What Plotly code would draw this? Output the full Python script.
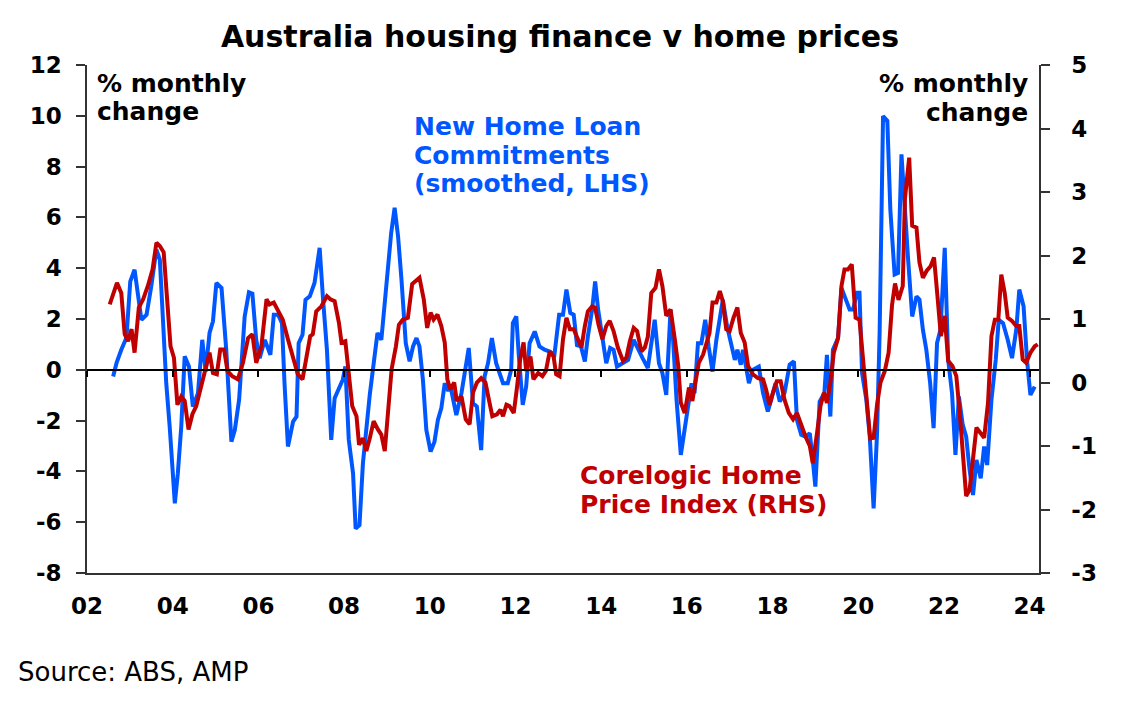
import plotly.graph_objects as go

# x axis: every second year, labelled with two digits
tick_years = [2002, 2004, 2006, 2008, 2010, 2012, 2014, 2016, 2018, 2020, 2022, 2024]
tick_labels = ["02", "04", "06", "08", "10", "12", "14", "16", "18", "20", "22", "24"]

# y axes, labelled with a plain hyphen for the minus sign
lhs_ticks = [-8, -6, -4, -2, 0, 2, 4, 6, 8, 10, 12]
lhs_labels = ["-8", "-6", "-4", "-2", "0", "2", "4", "6", "8", "10", "12"]
rhs_ticks = [-3, -2, -1, 0, 1, 2, 3, 4, 5]
rhs_labels = ["-3", "-2", "-1", "0", "1", "2", "3", "4", "5"]

# New home loan commitments, smoothed, % monthly change (LHS)
loans_t = [
    2002.61, 2002.69, 2002.80, 2002.92, 2003.01, 2003.11, 2003.27, 2003.39, 2003.50, 2003.62,
    2003.70, 2003.77, 2003.85, 2003.93, 2004.05, 2004.12, 2004.20, 2004.28, 2004.38, 2004.47,
    2004.59, 2004.69, 2004.77, 2004.86, 2004.94, 2005.02, 2005.14, 2005.25, 2005.37, 2005.45,
    2005.55, 2005.68, 2005.78, 2005.86, 2005.95, 2006.03, 2006.15, 2006.28, 2006.36, 2006.46,
    2006.55, 2006.61, 2006.69, 2006.81, 2006.89, 2006.94, 2007.03, 2007.10, 2007.20, 2007.31,
    2007.43, 2007.51, 2007.60, 2007.70, 2007.78, 2007.90, 2007.97, 2008.03, 2008.11, 2008.21,
    2008.27, 2008.36, 2008.44, 2008.60, 2008.67, 2008.78, 2008.87, 2008.99, 2009.10, 2009.18,
    2009.26, 2009.34, 2009.44, 2009.53, 2009.61, 2009.69, 2009.76, 2009.84, 2009.92, 2010.02,
    2010.11, 2010.19, 2010.27, 2010.35, 2010.42, 2010.50, 2010.62, 2010.74, 2010.81, 2010.91,
    2011.01, 2011.10, 2011.20, 2011.28, 2011.36, 2011.45, 2011.55, 2011.63, 2011.71, 2011.82,
    2011.90, 2011.94, 2012.02, 2012.08, 2012.17, 2012.25, 2012.33, 2012.45, 2012.56, 2012.68,
    2012.80, 2012.91, 2013.02, 2013.11, 2013.19, 2013.28, 2013.36, 2013.44, 2013.51, 2013.62,
    2013.69, 2013.79, 2013.86, 2013.93, 2014.00, 2014.12, 2014.21, 2014.29, 2014.37, 2014.51,
    2014.63, 2014.76, 2014.86, 2014.97, 2015.09, 2015.17, 2015.25, 2015.35, 2015.43, 2015.52,
    2015.62, 2015.68, 2015.76, 2015.86, 2015.95, 2016.03, 2016.11, 2016.18, 2016.26, 2016.34,
    2016.43, 2016.51, 2016.60, 2016.69, 2016.77, 2016.84, 2016.94, 2017.04, 2017.12, 2017.18,
    2017.26, 2017.31, 2017.39, 2017.45, 2017.54, 2017.68, 2017.78, 2017.89, 2017.97, 2018.07,
    2018.17, 2018.28, 2018.40, 2018.50, 2018.57, 2018.67, 2018.77, 2018.87, 2018.94, 2019.00,
    2019.10, 2019.21, 2019.27, 2019.35, 2019.41, 2019.53, 2019.61, 2019.71, 2019.80, 2019.88,
    2019.97, 2020.03, 2020.09, 2020.19, 2020.27, 2020.36, 2020.44, 2020.50, 2020.58, 2020.68,
    2020.75, 2020.85, 2020.93, 2021.01, 2021.08, 2021.16, 2021.26, 2021.36, 2021.43, 2021.51,
    2021.59, 2021.68, 2021.76, 2021.84, 2021.92, 2022.02, 2022.10, 2022.19, 2022.27, 2022.35,
    2022.44, 2022.52, 2022.60, 2022.68, 2022.76, 2022.86, 2022.94, 2023.01, 2023.11, 2023.21,
    2023.28, 2023.38, 2023.49, 2023.59, 2023.69, 2023.76, 2023.86, 2023.94, 2024.02, 2024.12,
]
loans_v = [
    -0.26, 0.27, 0.79, 1.26, 3.48, 3.94, 1.97, 2.17, 3.29, 4.73,
    4.34, 2.10, -0.53, -2.24, -5.26, -4.08, -2.24, 0.53, 0.13, -1.45,
    -0.92, 1.18, -0.07, 1.45, 1.91, 3.42, 3.22, 0.79, -2.83, -2.37,
    -1.18, 2.10, 3.05, 3.00, 1.18, 0.46, 1.18, 0.59, 2.17, 2.17,
    1.84, -0.53, -3.02, -2.04, -1.84, 1.05, 1.38, 2.76, 2.89, 3.42,
    4.80, 2.76, 0.79, -2.76, -1.12, -0.66, -0.39, 0.13, -2.76, -4.08,
    -6.25, -6.11, -3.68, -0.98, -0.05, 1.45, 1.18, 3.42, 5.39, 6.38,
    5.26, 3.55, 1.05, 0.33, 0.92, 1.25, 0.92, -0.39, -2.37, -3.22,
    -2.83, -1.97, -1.51, -0.53, -0.79, -0.79, -1.78, -0.92, -0.26, 0.86,
    -1.31, -1.45, -3.16, -0.26, 0.26, 1.25, 0.26, -0.13, -0.53, -0.53,
    0.00, 1.84, 2.10, 0.53, -1.38, -0.66, 1.05, 1.51, 0.92, 0.79,
    0.72, 0.59, 2.17, 2.17, 3.16, 2.24, 2.17, 0.92, 1.05, 0.33,
    1.31, 2.37, 3.48, 2.37, 1.58, 0.26, 0.86, 0.79, 0.13, 0.26,
    0.39, 1.18, 0.79, 0.45, 0.07, 1.00, 1.97, 0.26, -0.13, -0.99,
    2.37, 1.18, -1.18, -3.35, -2.24, -1.51, -0.53, -0.92, 1.05, 1.05,
    1.97, 0.92, -0.07, 1.18, 1.97, 2.76, 1.71, 0.92, 0.39, 0.79,
    0.20, 0.79, 0.13, -0.53, 0.00, 0.13, -0.92, -1.64, -1.18, -0.53,
    -1.25, -0.92, 0.20, 0.33, -1.97, -2.56, -2.63, -2.50, -3.55, -4.60,
    -1.25, -0.92, 0.59, -1.84, 0.79, 1.25, 3.22, 2.76, 2.37, 2.37,
    3.03, 3.03, -0.13, -1.18, -2.63, -5.46, -2.50, 1.45, 9.99, 9.80,
    6.31, 3.75, 3.81, 8.48, 6.31, 4.47, 2.10, 2.89, 2.76, 1.58,
    0.79, -0.53, -2.30, 1.05, 1.58, 4.80, 0.39, -0.92, -3.35, -1.05,
    -2.17, -2.63, -3.94, -4.93, -3.55, -4.27, -3.02, -3.75, -1.18, 0.39,
    1.97, 1.84, 1.18, 0.46, 1.58, 3.16, 2.50, 0.39, -0.99, -0.66,
]

# Corelogic home price index, % monthly change (RHS)
prices_t = [
    2002.53, 2002.70, 2002.80, 2002.88, 2002.96, 2003.04, 2003.11, 2003.21, 2003.31, 2003.42,
    2003.53, 2003.62, 2003.70, 2003.79, 2003.87, 2003.95, 2004.03, 2004.11, 2004.20, 2004.28,
    2004.37, 2004.46, 2004.55, 2004.65, 2004.75, 2004.86, 2004.94, 2005.03, 2005.11, 2005.20,
    2005.28, 2005.39, 2005.52, 2005.64, 2005.76, 2005.86, 2005.95, 2006.07, 2006.19, 2006.26,
    2006.36, 2006.46, 2006.57, 2006.69, 2006.81, 2006.92, 2007.03, 2007.12, 2007.21, 2007.27,
    2007.35, 2007.47, 2007.60, 2007.68, 2007.78, 2007.88, 2007.94, 2008.03, 2008.13, 2008.19,
    2008.29, 2008.35, 2008.44, 2008.52, 2008.60, 2008.69, 2008.79, 2008.87, 2008.95, 2009.03,
    2009.11, 2009.21, 2009.28, 2009.37, 2009.49, 2009.59, 2009.67, 2009.76, 2009.86, 2009.94,
    2010.02, 2010.09, 2010.18, 2010.27, 2010.35, 2010.41, 2010.48, 2010.57, 2010.63, 2010.74,
    2010.84, 2010.93, 2011.01, 2011.10, 2011.20, 2011.30, 2011.38, 2011.46, 2011.57, 2011.65,
    2011.71, 2011.79, 2011.86, 2011.96, 2012.03, 2012.11, 2012.19, 2012.25, 2012.35, 2012.42,
    2012.53, 2012.63, 2012.71, 2012.80, 2012.89, 2012.95, 2013.03, 2013.11, 2013.19, 2013.27,
    2013.36, 2013.46, 2013.54, 2013.62, 2013.69, 2013.79, 2013.86, 2013.94, 2014.03, 2014.12,
    2014.20, 2014.29, 2014.39, 2014.51, 2014.59, 2014.67, 2014.76, 2014.84, 2014.94, 2015.02,
    2015.09, 2015.17, 2015.27, 2015.35, 2015.43, 2015.52, 2015.62, 2015.72, 2015.80, 2015.86,
    2015.95, 2016.05, 2016.13, 2016.20, 2016.28, 2016.38, 2016.46, 2016.53, 2016.60, 2016.69,
    2016.77, 2016.84, 2016.92, 2017.00, 2017.09, 2017.18, 2017.26, 2017.35, 2017.43, 2017.54,
    2017.66, 2017.78, 2017.85, 2017.93, 2018.01, 2018.10, 2018.19, 2018.28, 2018.38, 2018.48,
    2018.57, 2018.67, 2018.77, 2018.87, 2018.94, 2019.04, 2019.12, 2019.20, 2019.27, 2019.35,
    2019.43, 2019.53, 2019.61, 2019.68, 2019.76, 2019.85, 2019.94, 2020.03, 2020.12, 2020.20,
    2020.28, 2020.36, 2020.44, 2020.52, 2020.62, 2020.71, 2020.79, 2020.86, 2020.94, 2021.04,
    2021.09, 2021.19, 2021.26, 2021.36, 2021.43, 2021.51, 2021.60, 2021.69, 2021.77, 2021.85,
    2021.93, 2022.02, 2022.10, 2022.20, 2022.29, 2022.37, 2022.45, 2022.52, 2022.60, 2022.68,
    2022.76, 2022.85, 2022.94, 2023.03, 2023.11, 2023.19, 2023.27, 2023.34, 2023.42, 2023.49,
    2023.59, 2023.69, 2023.76, 2023.84, 2023.92, 2024.02, 2024.12, 2024.19,
]
prices_v = [
    1.23, 1.57, 1.41, 0.76, 0.65, 0.84, 0.47, 1.18, 1.31, 1.52,
    1.78, 2.20, 2.15, 2.05, 1.31, 0.57, 0.39, -0.35, -0.22, -0.29,
    -0.74, -0.50, -0.37, -0.11, 0.21, 0.47, 0.15, 0.13, 0.52, 0.52,
    0.18, 0.10, 0.05, 0.31, 0.70, 0.76, 0.31, 0.57, 1.31, 1.23,
    1.26, 1.12, 0.99, 0.68, 0.36, 0.13, 0.05, 0.41, 0.73, 0.76,
    1.12, 1.20, 1.36, 1.31, 1.28, 0.94, 0.63, 0.65, 0.05, -0.37,
    -0.53, -0.98, -0.88, -1.08, -0.88, -0.61, -0.74, -0.82, -1.08, -0.43,
    0.21, 0.57, 0.91, 0.99, 1.02, 1.55, 1.60, 1.65, 1.31, 0.86,
    1.10, 0.99, 1.07, 0.89, 0.63, 0.05, -0.11, 0.00, -0.29, -0.22,
    -0.58, -0.66, -0.16, 0.00, 0.07, 0.00, -0.27, -0.53, -0.50, -0.43,
    -0.53, -0.35, -0.37, -0.48, -0.11, 0.36, 0.63, 0.18, 0.41, 0.05,
    0.15, 0.10, 0.18, 0.49, 0.41, 0.13, 0.10, 0.68, 1.02, 0.84,
    0.84, 0.68, 0.55, 0.89, 1.12, 1.20, 1.18, 0.91, 0.68, 0.89,
    0.97, 0.81, 0.55, 0.34, 0.39, 0.65, 0.86, 0.81, 0.49, 0.55,
    0.72, 1.41, 1.49, 1.78, 1.52, 1.05, 1.15, 0.68, 0.26, -0.32,
    -0.48, -0.08, -0.29, 0.00, 0.31, 0.44, 0.63, 0.78, 1.26, 1.26,
    1.44, 1.28, 0.84, 0.81, 1.02, 1.18, 0.78, 0.63, 0.26, 0.13,
    0.07, 0.05, -0.11, -0.35, -0.16, 0.02, 0.02, -0.27, -0.48, -0.58,
    -0.48, -0.69, -0.85, -1.00, -1.27, -0.79, -0.37, -0.16, -0.32, 0.00,
    0.47, 0.70, 1.52, 1.78, 1.78, 1.86, 1.02, 0.99, 0.30, -0.20,
    -0.88, -0.87, -0.35, 0.00, 0.18, 0.47, 1.22, 1.56, 1.30, 1.52,
    2.89, 3.54, 2.47, 2.44, 1.89, 1.65, 1.76, 1.83, 1.97, 1.36,
    0.73, 1.05, 0.34, 0.26, 0.10, -0.48, -1.21, -1.79, -1.69, -1.21,
    -0.71, -0.79, -0.87, -0.32, 0.73, 0.99, 0.99, 1.70, 1.41, 1.02,
    0.97, 0.89, 0.89, 0.36, 0.31, 0.47, 0.57, 0.60,
]

BLUE = "#0057FF"
RED = "#C00000"
FONT = "DejaVu Sans, sans-serif"
x_range = [2002, 2024.22]

fig = go.Figure()
fig.add_trace(go.Scatter(
    x=loans_t, y=loans_v,
    mode="lines",
    name="New Home Loan Commitments (smoothed, LHS)",
    line=dict(color=BLUE, width=4),
    xaxis="x", yaxis="y",
))
fig.add_trace(go.Scatter(
    x=prices_t, y=prices_v,
    mode="lines",
    name="Corelogic Home Price Index (RHS)",
    line=dict(color=RED, width=4),
    xaxis="x2", yaxis="y2",
))

tick_font = dict(family=FONT, size=23, color="black", weight="bold")

# page has an 8px body margin, so the figure is 16px smaller than the window
fig.update_layout(
    width=1114, height=702,
    margin=dict(l=79, r=83, t=57, b=137),
    paper_bgcolor="white", plot_bgcolor="white",
    showlegend=False,
    title=dict(
        text="Australia housing finance v home prices",
        x=0.4955, xanchor="center", y=0.9587, yanchor="middle",
        font=dict(family=FONT, size=30, color="black", weight="bold"),
    ),
    # bottom axis: year labels only
    xaxis=dict(
        range=x_range, tickvals=tick_years, ticktext=tick_labels,
        ticks="", showgrid=False, zeroline=False,
        showline=True, linecolor="#333333", linewidth=1.5,
        tickfont=tick_font, ticklabelstandoff=12,
    ),
    # axis along zero of the LHS scale, carrying the year ticks
    xaxis2=dict(
        range=x_range, tickvals=tick_years, overlaying="x",
        anchor="free", position=0.4,
        ticks="outside", ticklen=6, tickcolor="black", tickwidth=1.5,
        showticklabels=False, showgrid=False, zeroline=False,
        showline=True, linecolor="black", linewidth=1.5,
    ),
    yaxis=dict(
        range=[-8, 12], tickvals=lhs_ticks, ticktext=lhs_labels, anchor="x",
        ticks="outside", ticklen=9, tickcolor="#333333", tickwidth=1.5,
        showgrid=False, zeroline=False,
        showline=True, linecolor="#333333", linewidth=1.5,
        tickfont=tick_font, ticklabelstandoff=10,
    ),
    yaxis2=dict(
        range=[-3, 5], tickvals=rhs_ticks, ticktext=rhs_labels,
        overlaying="y", side="right", anchor="x2",
        ticks="outside", ticklen=9, tickcolor="#333333", tickwidth=1.5,
        showgrid=False, zeroline=False,
        showline=True, linecolor="#333333", linewidth=1.5,
        tickfont=tick_font, ticklabelstandoff=17,
    ),
)


def add_lines(lines, x, ys, anchor, color, size=25, bold=True):
    for text, y in zip(lines, ys):
        fig.add_annotation(
            text=text, xref="paper", yref="paper",
            x=x, y=y, xanchor=anchor, yanchor="middle",
            showarrow=False,
            font=dict(family=FONT, size=size, color=color,
                      weight="bold" if bold else "normal"),
        )


add_lines(["% monthly", "change"], 0.0088, [0.964, 0.908], "left", "black")
add_lines(["% monthly", "change"], 0.9903, [0.963, 0.907], "right", "black")
add_lines(["New Home Loan", "Commitments", "(smoothed, LHS)"], 0.3418,
          [0.878, 0.821, 0.766], "left", BLUE)
add_lines(["Corelogic Home", "Price Index (RHS)"], 0.5158,
          [0.191, 0.1348], "left", RED)
add_lines(["Source: ABS, AMP"], -0.0749, [-0.195], "left", "black", size=26, bold=False)

fig.write_html("out.html")
